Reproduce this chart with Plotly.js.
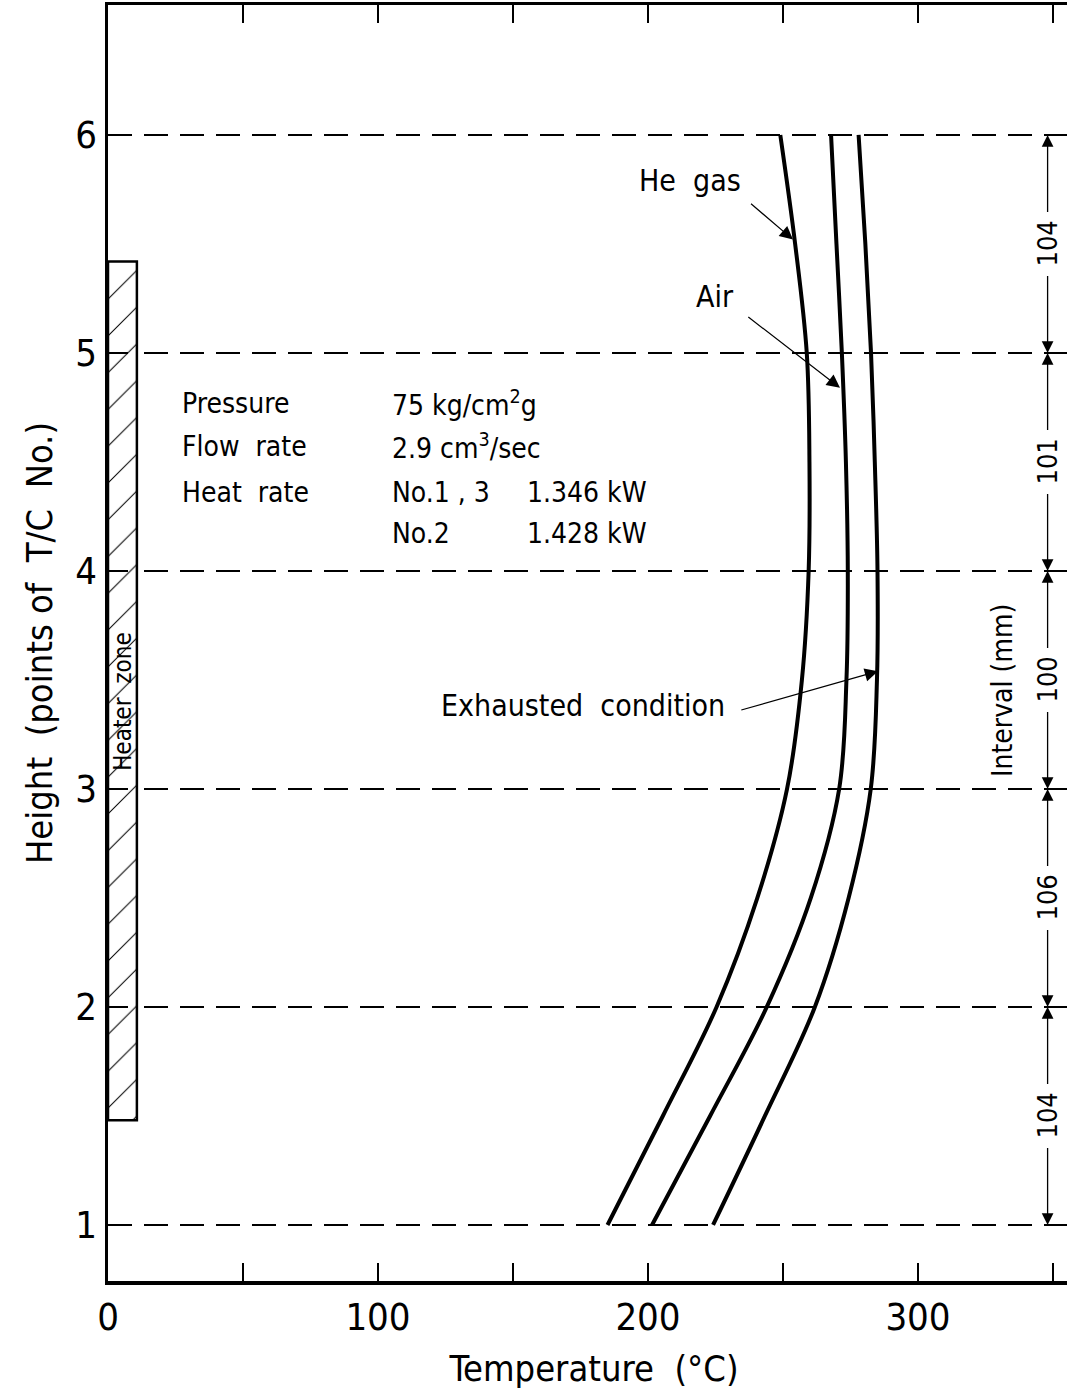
<!DOCTYPE html>
<html>
<head>
<meta charset="utf-8">
<script src="https://cdn.plot.ly/plotly-3.0.1.min.js"></script>
<style>html,body{margin:0;padding:0;background:#fff;overflow:hidden;}</style>
</head>
<body>
<div id="chart"></div>
<script>
// ---- data ----
const heights = [1, 1.5, 2, 2.5, 3, 3.5, 4, 4.5, 5, 5.5, 6];
const heGas   = [185, 205.5, 225.4, 240.5, 251.5, 257, 259.5, 259.8, 258.8, 254.5, 249];
const air     = [201.5, 223, 244, 260.3, 270.8, 273.5, 274, 273.3, 271.8, 269.8, 267.8];
const exhausted = [224.1, 243.3, 261.8, 274.3, 282.5, 284.8, 285, 284, 282.6, 280.5, 278];

const heaterX = [0, 10.7, 10.7, 0, 0];
const heaterY = [1.48, 1.48, 5.42, 5.42, 1.48];

const levels = [1, 2, 3, 4, 5, 6];
const intervalLabels = ['104', '106', '100', '101', '104'];   // between successive levels, bottom to top
const dimX = 348;

const xTickVals = [0, 50, 100, 150, 200, 250, 300, 350];
const xTickText = ['0', '', '100', '', '200', '', '300', ''];
const yTickVals = [1, 2, 3, 4, 5, 6];

const infoRows = [
  {label: 'Pressure',  value: '75 kg/cm<sup>2</sup>g', value2: '', y: 4.77},
  {label: 'Flow  rate', value: '2.9 cm<sup>3</sup>/sec', value2: '', y: 4.57},
  {label: 'Heat  rate', value: 'No.1 , 3', value2: '1.346 kW', y: 4.36},
  {label: '',          value: 'No.2',    value2: '1.428 kW', y: 4.17}
];

// ---- drawing ----
const FONT = 'Liberation Sans Narrow, DejaVu Sans Condensed, Arial Narrow, sans-serif';

const lineStyle = {color: 'black', width: 4, shape: 'spline', smoothing: 1.0};
const traces = [
  {x: heaterX, y: heaterY, mode: 'lines', fill: 'toself', fillcolor: 'white',
   fillpattern: {shape: '/', fgcolor: 'black', bgcolor: 'white', size: 26, solidity: 0.04},
   line: {color: 'black', width: 2.5}, hoverinfo: 'skip', showlegend: false},
  {x: heGas, y: heights, mode: 'lines', line: lineStyle, name: 'He gas', showlegend: false},
  {x: air, y: heights, mode: 'lines', line: lineStyle, name: 'Air', showlegend: false},
  {x: exhausted, y: heights, mode: 'lines', line: lineStyle, name: 'Exhausted condition', showlegend: false}
];

const ann = [];
function txt(x, y, text, size, extra) {
  ann.push(Object.assign({x: x, y: y, xref: 'x', yref: 'y', text: text, showarrow: false,
    font: {family: FONT, size: size, color: 'black'}}, extra || {}));
}
function arrow(x, y, ax, ay, w, s) {
  ann.push({x: x, y: y, ax: ax, ay: ay, xref: 'x', yref: 'y', axref: 'x', ayref: 'y',
    text: '', showarrow: true, arrowhead: 2, arrowsize: s || 2, arrowwidth: w || 1.2,
    arrowcolor: 'black', standoff: 0, startstandoff: 0});
}

// curve labels with leader arrows
txt(215.6, 5.79, 'He  gas', 30);
arrow(253.7, 5.52, 237.6, 5.69, 1.2, 2.2);
txt(224.8, 5.26, 'Air', 30);
arrow(271.1, 4.84, 236.6, 5.17, 1.2, 2.2);
txt(175.9, 3.385, 'Exhausted  condition', 30);
arrow(285.2, 3.54, 234, 3.36, 1.2, 2.2);

// info block
infoRows.forEach(r => {
  if (r.label) txt(26.7, r.y, r.label, 28, {xanchor: 'left'});
  txt(104.4, r.y, r.value, 28, {xanchor: 'left'});
  if (r.value2) txt(154.4, r.y, r.value2, 28, {xanchor: 'left'});
});

// heater zone label
txt(5.6, 3.4, 'Heater  zone', 24, {textangle: -90});

// dimension lines on the right
const gap = 0.14;
for (let i = 0; i < levels.length - 1; i++) {
  const lo = levels[i], hi = levels[i + 1], mid = (lo + hi) / 2;
  arrow(dimX, lo, dimX, mid - gap, 1.3, 1.8);
  arrow(dimX, hi, dimX, mid + gap, 1.3, 1.8);
  txt(dimX, mid, intervalLabels[i], 27, {textangle: -90});
}
txt(331.5, 3.45, 'Interval (mm)', 28, {textangle: -90});

const layout = {
  width: 1080, height: 1397,
  margin: {l: 108, r: 0, t: 5, b: 116},
  paper_bgcolor: 'white', plot_bgcolor: 'white',
  font: {family: FONT, color: 'black'},
  showlegend: false,
  xaxis: {
    range: [0, 360], showgrid: false, zeroline: false,
    showline: true, linecolor: 'black', linewidth: 3.5, mirror: 'ticks',
    ticks: 'inside', ticklen: 18, tickwidth: 2, tickcolor: 'black',
    tickvals: xTickVals, ticktext: xTickText,
    tickfont: {family: FONT, size: 38, color: 'black'},
    title: {text: 'Temperature  (°C)', font: {family: FONT, size: 36, color: 'black'}, standoff: 18}
  },
  yaxis: {
    range: [0.743, 6.596], zeroline: false,
    showgrid: true, gridcolor: 'black', gridwidth: 1.2, griddash: '24px,12px',
    showline: true, linecolor: 'black', linewidth: 3.5, mirror: 'ticks',
    ticks: 'inside', ticklen: 20, tickwidth: 2, tickcolor: 'black',
    tickvals: yTickVals,
    tickfont: {family: FONT, size: 38, color: 'black'},
    title: {text: 'Height  (points of  T/C  No.)', font: {family: FONT, size: 36, color: 'black'}, standoff: 12}
  },
  annotations: ann
};

Plotly.newPlot('chart', traces, layout, {staticPlot: true, displayModeBar: false});
</script>
</body>
</html>
